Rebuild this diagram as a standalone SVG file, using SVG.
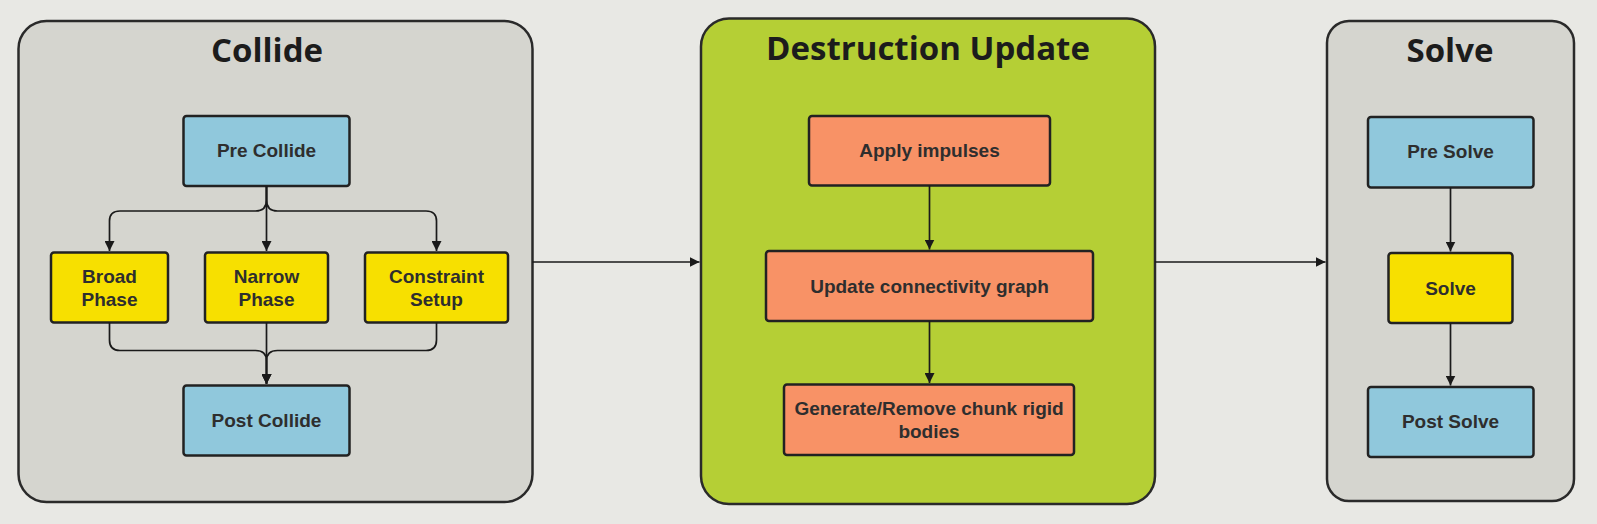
<svg xmlns="http://www.w3.org/2000/svg" width="1597" height="524" viewBox="0 0 1597 524">
<defs>
<marker id="ah" viewBox="0 0 10 10" refX="10" refY="5" markerWidth="10" markerHeight="10" markerUnits="userSpaceOnUse" orient="auto">
<path d="M0,0 L10,5 L0,10 z" fill="#1a1a1a"/>
</marker>
<style>
.cont{stroke:#2a2a2a;stroke-width:2.5}
.gray{fill:#d5d5cf}
.green{fill:#b5cf35}
.node{stroke:#222;stroke-width:2.5}
.blue{fill:#90c8dc}
.yellow{fill:#f7e000}
.orange{fill:#f89266}
.title{font-family:"Open Sans","Noto Sans",sans-serif;font-weight:700;font-size:33px;fill:#1c1c1c;text-anchor:middle}
.lbl{font-family:"Liberation Sans",Arial,sans-serif;font-weight:700;font-size:19px;fill:#2e2e2e;text-anchor:middle}
.conn{fill:none;stroke:#1a1a1a;stroke-width:1.7}
</style>
</defs>
<rect width="1597" height="524" fill="#e8e8e4"/>

<g id="collide">
<rect class="cont gray" x="18.5" y="21" width="514" height="481" rx="28"/>
<text class="title" x="267" y="62">Collide</text>
</g>
<g id="pre-collide"><rect class="node blue" x="183.5" y="116" width="166" height="70" rx="3"/><text class="lbl" x="266.5" y="157">Pre Collide</text></g>
<g id="broad-phase"><rect class="node yellow" x="51" y="252.5" width="117" height="70" rx="3"/><text class="lbl" x="109.5" y="283">Broad</text><text class="lbl" x="109.5" y="306">Phase</text></g>
<g id="narrow-phase"><rect class="node yellow" x="205" y="252.5" width="123" height="70" rx="3"/><text class="lbl" x="266.5" y="283">Narrow</text><text class="lbl" x="266.5" y="306">Phase</text></g>
<g id="constraint-setup"><rect class="node yellow" x="365" y="252.5" width="143" height="70" rx="3"/><text class="lbl" x="436.5" y="283">Constraint</text><text class="lbl" x="436.5" y="306">Setup</text></g>
<g id="post-collide"><rect class="node blue" x="183.5" y="385.5" width="166" height="70" rx="3"/><text class="lbl" x="266.5" y="427">Post Collide</text></g>

<g id="destruction-update">
<rect class="cont green" x="701" y="18.5" width="454" height="485.5" rx="28"/>
<text class="title" x="928" y="60">Destruction Update</text>
</g>
<g id="apply-impulses"><rect class="node orange" x="809" y="116" width="241" height="69.5" rx="3"/><text class="lbl" x="929.5" y="157">Apply impulses</text></g>
<g id="update-graph"><rect class="node orange" x="766" y="251" width="327" height="70" rx="3"/><text class="lbl" x="929.5" y="293">Update connectivity graph</text></g>
<g id="generate-remove"><rect class="node orange" x="784" y="384.5" width="290" height="70.5" rx="3"/><text class="lbl" x="929" y="414.5">Generate/Remove chunk rigid</text><text class="lbl" x="929" y="438">bodies</text></g>

<g id="solve">
<rect class="cont gray" x="1327" y="21" width="247" height="480" rx="22"/>
<text class="title" x="1450" y="62">Solve</text>
</g>
<g id="pre-solve"><rect class="node blue" x="1368" y="117" width="165.5" height="70.5" rx="3"/><text class="lbl" x="1450.5" y="158">Pre Solve</text></g>
<g id="solve-node"><rect class="node yellow" x="1388.5" y="253" width="124" height="70" rx="3"/><text class="lbl" x="1450.5" y="295">Solve</text></g>
<g id="post-solve"><rect class="node blue" x="1368" y="387" width="165.5" height="70" rx="3"/><text class="lbl" x="1450.5" y="428">Post Solve</text></g>

<g id="connectors">
<path class="conn" d="M266.5,186 V251" marker-end="url(#ah)"/>
<path class="conn" d="M266.5,186 V200 Q266.5,211 255.5,211 H120 Q109.5,211 109.5,221 V251" marker-end="url(#ah)"/>
<path class="conn" d="M266.5,186 V200 Q266.5,211 277.5,211 H426 Q436.5,211 436.5,221 V251" marker-end="url(#ah)"/>
<path class="conn" d="M266.5,322.5 V384" marker-end="url(#ah)"/>
<path class="conn" d="M109.5,322.5 V340 Q109.5,350.5 120,350.5 H255.5 Q266.5,350.5 266.5,361 V384" marker-end="url(#ah)"/>
<path class="conn" d="M436.5,322.5 V340 Q436.5,350.5 426,350.5 H277.5 Q266.5,350.5 266.5,361 V384" marker-end="url(#ah)"/>
<path class="conn" d="M532.5,262 H699.5" marker-end="url(#ah)"/>
<path class="conn" d="M929.5,185.5 V249.5" marker-end="url(#ah)"/>
<path class="conn" d="M929.5,321 V383" marker-end="url(#ah)"/>
<path class="conn" d="M1155,262 H1325.5" marker-end="url(#ah)"/>
<path class="conn" d="M1450.5,187.5 V251.5" marker-end="url(#ah)"/>
<path class="conn" d="M1450.5,323 V385.5" marker-end="url(#ah)"/>
</g>
</svg>
